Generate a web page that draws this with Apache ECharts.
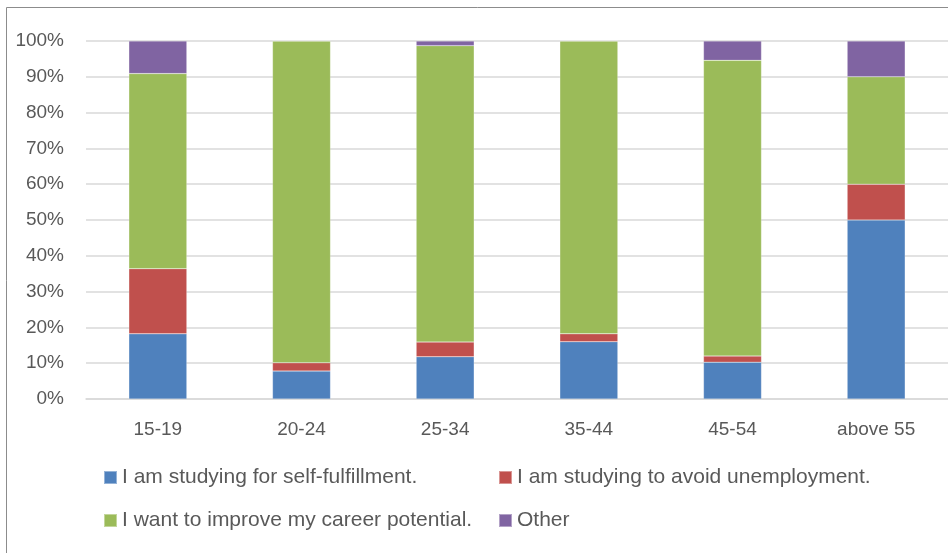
<!DOCTYPE html>
<html>
<head>
    <meta charset="utf-8">
    <title>Reasons for studying by age group</title>
    <script src="https://cdn.jsdelivr.net/npm/echarts@6/dist/echarts.min.js"></script>
    <style>
        html, body { margin: 0; padding: 0; background: #fff; }
        #main { width: 948px; height: 553px; }
    </style>
</head>
<body>
<div id="main"></div>
<script type="text/javascript">
    // categories (age groups)
    var ages = ['15-19', '20-24', '25-34', '35-44', '45-54', 'above 55'];
    // shares in percent
    var selfFulfil = [18.2, 7.8, 11.8, 16.0, 10.3, 50];
    var avoidUnemp = [18.2, 2.3, 4.1, 2.2, 1.7, 10];
    var career = [54.5, 89.9, 82.8, 81.8, 82.6, 30];
    var other = [9.1, 0, 1.3, 0, 5.4, 10];

    var names = [
        'I am studying for self-fulfillment.',
        'I am studying to avoid unemployment.',
        'I want to improve my career potential.',
        'Other'
    ];
    var colors = ['#4F81BD', '#C0504D', '#9BBB59', '#8064A2'];
    var font = '"Liberation Sans", Arial, sans-serif';

    var myChart = echarts.init(document.getElementById('main'));

    function bar(name, data, color) {
        return {
            name: name,
            type: 'bar',
            stack: 'total',
            barWidth: 58,
            data: data,
            itemStyle: {color: color, borderColor: 'rgba(255,255,255,0.4)', borderWidth: 0.5},
            emphasis: {disabled: true}
        };
    }

    // one legend per entry so the two columns line up like the original
    function legendItem(name, left, top) {
        return {
            data: [name],
            left: left, top: top,
            padding: 0,
            itemWidth: 13, itemHeight: 13, itemGap: 6,
            icon: 'rect',
            selectedMode: false,
            textStyle: {color: '#595959', fontSize: 21, fontFamily: font}
        };
    }

    var option = {
        animation: false,
        backgroundColor: '#fff',
        color: colors,
        grid: {left: 86, width: 864, top: 41, bottom: 154},
        legend: [
            legendItem(names[0], 103, 467),
            legendItem(names[1], 498, 467),
            legendItem(names[2], 103, 510),
            legendItem(names[3], 498, 510)
        ],
        xAxis: {
            type: 'category',
            data: ages,
            axisTick: {show: false},
            axisLine: {lineStyle: {color: '#D9D9D9', width: 1.5}},
            axisLabel: {color: '#595959', fontSize: 19, fontFamily: font, margin: 21}
        },
        yAxis: {
            type: 'value',
            min: 0, max: 100, interval: 10,
            axisLine: {show: false},
            axisTick: {show: false},
            axisLabel: {color: '#595959', fontSize: 19, fontFamily: font, margin: 22,
                formatter: '{value}%'},
            splitLine: {lineStyle: {color: '#D9D9D9', width: 1.5}}
        },
        graphic: [{
            type: 'rect',
            shape: {x: 6.5, y: 7.5, width: 1000, height: 600},
            style: {fill: 'none', stroke: '#8C8C8C', lineWidth: 1},
            silent: true
        }],
        series: [
            bar(names[0], selfFulfil, colors[0]),
            bar(names[1], avoidUnemp, colors[1]),
            bar(names[2], career, colors[2]),
            bar(names[3], other, colors[3])
        ]
    };
    myChart.setOption(option);
</script>
</body>
</html>
